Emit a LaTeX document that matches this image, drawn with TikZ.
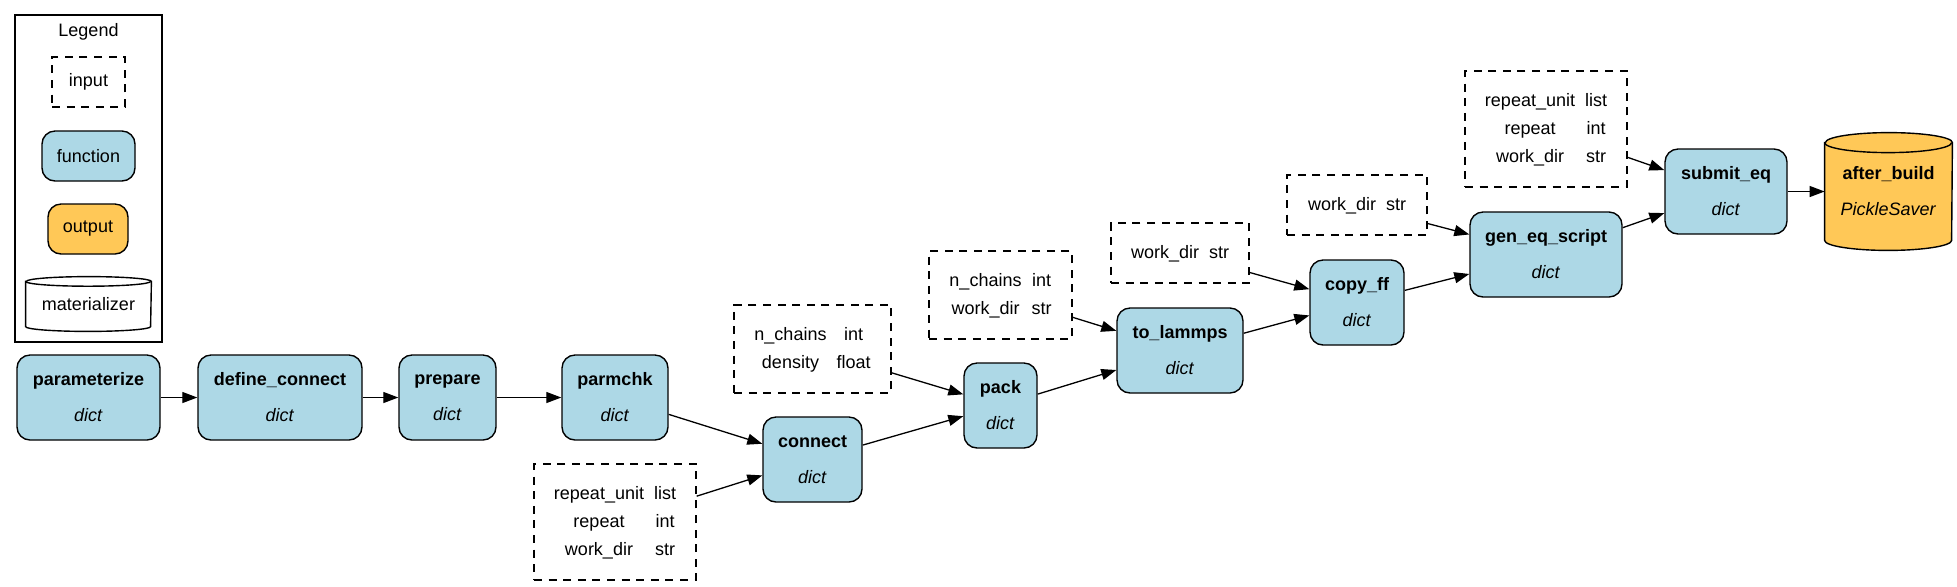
\documentclass[tikz,border=0pt]{standalone}
\usepackage{fontspec}
\setmainfont{Liberation Sans}
\usetikzlibrary{arrows.meta,calc}
\definecolor{fnblue}{HTML}{ADD8E6}
\definecolor{outorange}{HTML}{FFC857}
\pgfdeclarelayer{bg}
\pgfsetlayers{bg,main}
\newcommand{\drawcyl}[4]{%
  \begin{pgfonlayer}{bg}
  \path[draw, fill=#4, line width=0.7pt] ($(#1.north west)+(0pt,-#2)$) -- ($(#1.south west)+(0pt,#2)$)
    arc[start angle=180,end angle=360,x radius=#3,y radius=#2] -- ($(#1.north east)+(0pt,-#2)$)
    arc[start angle=0,end angle=180,x radius=#3,y radius=#2] -- cycle;
  \draw[line width=0.7pt] ($(#1.north west)+(0pt,-#2)$) arc[start angle=180,end angle=360,x radius=#3,y radius=#2];
  \end{pgfonlayer}
}
\tikzset{
  base/.style={inner sep=0pt, align=center, font=\fontsize{9}{18}\selectfont},
  fn/.style={base, draw, fill=fnblue, rounded corners=6.5pt, line width=0.7pt, minimum height=42.5pt},
  outp/.style={base, draw, fill=outorange, rounded corners=6.5pt, line width=0.7pt},
  inp/.style={inner sep=0pt, draw, dash pattern=on 4pt off 3.3pt, line width=0.65pt, font=\fontsize{9}{14}\selectfont},
  cyl/.style={base},
  plain/.style={inner sep=0pt, font=\fontsize{9}{14}\selectfont},
  edge/.style={line width=0.65pt, -{Triangle[length=7.5pt,width=5.5pt]}}
}
\begin{document}
\begin{tikzpicture}[x=0.5pt,y=-0.5pt]
\useasboundingbox (0,0) rectangle (1957,586);
% legend
\node[draw, line width=0.65pt, minimum width=73.5pt, minimum height=163.5pt, inner sep=0pt] (legend) at (88.5,178.5) {};
\node[plain] (legendtitle) at (88.5,32) {Legend};
\node[inp, minimum width=36.5pt, minimum height=25pt] (lginput) at (88.5,82) {input};
\node[fn, minimum width=46.5pt, minimum height=25pt, font=\fontsize{9}{14}\selectfont] (lgfunction) at (88.5,156) {function};
\node[outp, minimum width=40pt, minimum height=25pt, font=\fontsize{9}{14}\selectfont] (lgoutput) at (88,229) {output};
\node[cyl, minimum width=62.5pt, minimum height=27pt, font=\fontsize{9}{14}\selectfont] (lgmat) at (88.5,304) {materializer};
\drawcyl{lgmat}{2.4pt}{31.25pt}{white}
% function nodes
\node[fn, minimum width=71.5pt] (parameterize) at (88.5,397.5) {\textbf{parameterize}\\\textit{dict}};
\node[fn, minimum width=82pt] (defineconnect) at (280,397.5) {\textbf{define\_connect}\\\textit{dict}};
\node[fn, minimum width=48.5pt] (prepare) at (447.5,397.5) {\textbf{prepare}\\\textit{dict}};
\node[fn, minimum width=53pt] (parmchk) at (615,397.5) {\textbf{parmchk}\\\textit{dict}};
\node[fn, minimum width=49.5pt] (connect) at (812.5,459.5) {\textbf{connect}\\\textit{dict}};
\node[fn, minimum width=36.5pt] (pack) at (1000.5,405.5) {\textbf{pack}\\\textit{dict}};
\node[fn, minimum width=63pt] (tolammps) at (1180,350.5) {\textbf{to\_lammps}\\\textit{dict}};
\node[fn, minimum width=47pt] (copyff) at (1357,302.5) {\textbf{copy\_ff}\\\textit{dict}};
\node[fn, minimum width=76pt] (geneq) at (1546,254.5) {\textbf{gen\_eq\_script}\\\textit{dict}};
\node[fn, minimum width=61pt] (submiteq) at (1726,191.5) {\textbf{submit\_eq}\\\textit{dict}};
\node[cyl, minimum width=63.5pt, minimum height=58.5pt] (afterbuild) at (1888.5,191.5) {\textbf{after\_build}\\\textit{PickleSaver}};
\drawcyl{afterbuild}{5pt}{31.75pt}{outorange}
% inputs
\node[inp, minimum width=81pt, minimum height=58pt] (inconnect) at (615,522) {\begin{tabular}{@{}c@{\hspace{5pt}}c@{}}repeat\_unit & list\\ repeat & int\\ work\_dir & str\end{tabular}};
\node[inp, minimum width=78.5pt, minimum height=44pt] (inpack) at (812.5,349) {\begin{tabular}{@{}c@{\hspace{5pt}}c@{}}n\_chains & int\\ density & float\end{tabular}};
\node[inp, minimum width=71.5pt, minimum height=44pt] (intolammps) at (1000.5,295) {\begin{tabular}{@{}c@{\hspace{5pt}}c@{}}n\_chains & int\\ work\_dir & str\end{tabular}};
\node[inp, minimum width=69pt, minimum height=30pt] (incopyff) at (1180,253) {\begin{tabular}{@{}c@{\hspace{5pt}}c@{}}work\_dir & str\end{tabular}};
\node[inp, minimum width=70pt, minimum height=30pt] (ingeneq) at (1357,205) {\begin{tabular}{@{}c@{\hspace{5pt}}c@{}}work\_dir & str\end{tabular}};
\node[inp, minimum width=81pt, minimum height=58pt] (insubmit) at (1546,129) {\begin{tabular}{@{}c@{\hspace{5pt}}c@{}}repeat\_unit & list\\ repeat & int\\ work\_dir & str\end{tabular}};
% edges
\draw[edge] (parameterize) -- (defineconnect);
\draw[edge] (defineconnect) -- (prepare);
\draw[edge] (prepare) -- (parmchk);
\draw[edge] (parmchk) -- (connect);
\draw[edge] (inconnect) -- (connect);
\draw[edge] (connect) -- (pack);
\draw[edge] (inpack) -- (pack);
\draw[edge] (pack) -- (tolammps);
\draw[edge] (intolammps) -- (tolammps);
\draw[edge] (tolammps) -- (copyff);
\draw[edge] (incopyff) -- (copyff);
\draw[edge] (copyff) -- (geneq);
\draw[edge] (ingeneq) -- (geneq);
\draw[edge] (geneq) -- (submiteq);
\draw[edge] (insubmit) -- (submiteq);
\draw[edge] (submiteq) -- (afterbuild);
\end{tikzpicture}
\end{document}
